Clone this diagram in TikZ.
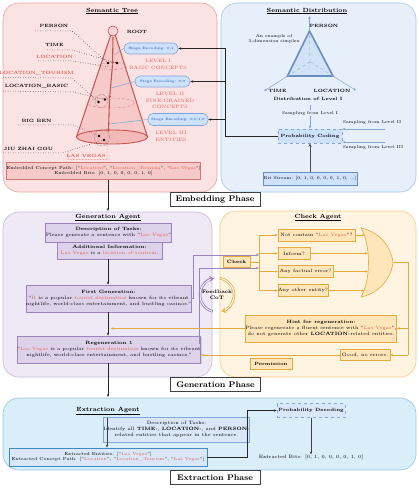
\documentclass[tikz,border=0pt]{standalone}
\usetikzlibrary{arrows.meta,shadows,calc}
\definecolor{rd}{HTML}{EC5A52}
\definecolor{pinkbg}{HTML}{FBE3E3}
\definecolor{pinkbd}{HTML}{E9A3A3}
\definecolor{conef}{HTML}{F4B9B9}
\definecolor{coned}{HTML}{C65454}
\definecolor{embf}{HTML}{F7CACA}
\definecolor{bluebg}{HTML}{E6EFFA}
\definecolor{bluebd}{HTML}{A9C5EA}
\definecolor{stegf}{HTML}{CFE2FB}
\definecolor{stegd}{HTML}{7DA6E0}
\definecolor{stegt}{HTML}{3F6FC8}
\definecolor{triblue}{HTML}{6C8EBF}
\definecolor{trifill}{HTML}{D2E2F7}
\definecolor{purbg}{HTML}{EFE9F5}
\definecolor{purbd}{HTML}{C9B9DD}
\definecolor{purf}{HTML}{DED2EA}
\definecolor{purd}{HTML}{9B83BE}
\definecolor{orbg}{HTML}{FFF4E2}
\definecolor{orbd}{HTML}{F6CB7E}
\definecolor{orf}{HTML}{FFE5BA}
\definecolor{ord}{HTML}{E4AA3C}
\definecolor{exbg}{HTML}{D9EEF8}
\definecolor{exbd}{HTML}{93C9E2}
\definecolor{exf}{HTML}{D9E7F9}
\definecolor{exd}{HTML}{80A8DA}
\definecolor{exbox}{HTML}{3E8CC2}
\newcommand\qq[1]{\textquotedblleft#1\textquotedblright}
\newcommand\rt[1]{\textcolor{rd}{#1}}
\tikzset{
 txt/.style={font=\fontsize{4.7}{5.9}\selectfont, inner sep=0pt, align=center},
 small/.style={font=\fontsize{4.35}{5.7}\selectfont},
 ttl/.style={font=\bfseries\fontsize{6}{7}\selectfont, inner sep=0pt},
 lab/.style={font=\bfseries\fontsize{4.6}{5.5}\selectfont, inner sep=0pt},
 lvl/.style={font=\fontsize{4.8}{6.9}\selectfont, text=rd, align=center, inner sep=0pt},
 panel/.style={rounded corners=16pt, line width=0.6pt},
 shad/.style={drop shadow={shadow xshift=0.8pt, shadow yshift=-0.8pt, fill=black!30}},
 pbox/.style={txt, fill=purf, draw=purd, line width=0.6pt, shad},
 obox/.style={txt, fill=orf, draw=ord, line width=0.6pt, shad},
 stega/.style={font=\bfseries\fontsize{3.4}{4}\selectfont, text=stegt, fill=stegf, draw=stegd, line width=0.6pt, rounded corners=5pt, inner sep=0pt},
 arr/.style={-{Stealth[length=3pt,width=2.4pt]}, line width=0.6pt},
 lead/.style={dotted, line width=0.5pt, black!85},
 phasetab/.style={draw=black!75, fill=white, line width=0.6pt, minimum width=90, minimum height=13.5, font=\bfseries\fontsize{8.2}{9}\selectfont, inner sep=0pt},
}
\begin{document}
\begin{tikzpicture}[x=1pt,y=-1pt]
\useasboundingbox (0,0) rectangle (419,489);
% ================= EMBEDDING PHASE =================
\draw[panel, fill=pinkbg, draw=pinkbd] (3,3) rectangle (217,192);
\draw[panel, fill=bluebg, draw=bluebd] (221,3) rectangle (416,192);
\node[ttl] (tt1) at (112,11) {\underline{Semantic Tree}};
\node[ttl] (tt2) at (307,11) {\underline{Semantic Distribution}};
% cone
\fill[conef!75] (110.5,33) -- (76.5,137) -- (147.5,137) -- (115.5,33) -- cycle;
\fill[conef] (112,137) ellipse [x radius=35.5, y radius=7];
\draw[coned!70, line width=0.4pt, densely dashed] (112.5,66) ellipse [x radius=14, y radius=3.5];
\draw[coned!70, line width=0.4pt, densely dashed] (111,103) ellipse [x radius=23.5, y radius=5];
\draw[coned, line width=1pt] (110.8,35) -- (76.5,137);
\draw[coned, line width=1pt] (115.2,35) -- (147.5,137);
\draw[coned, line width=0.9pt] (112,137) ellipse [x radius=35.5, y radius=7];
\node[circle, draw=coned, fill=conef!60, line width=0.6pt, minimum size=10pt, inner sep=0pt] (root) at (113,31) {};
\node[lab] (rootl) at (137,32) {ROOT};
% red path arrows
\draw[coned, line width=1.1pt, -{Stealth[length=3.5pt,width=3pt]}] (113,37) -- (112.5,65);
\draw[coned, line width=1.1pt, -{Stealth[length=3.5pt,width=3pt]}] (112.5,65) -- (109.5,99);
\draw[coned, line width=1.1pt, -{Stealth[length=3.5pt,width=3pt]}] (109.5,99) -- (108.5,132);
% dotted groups
\draw[black!70, densely dotted, line width=0.4pt] (101.5,101) circle (6.5);
\draw[black!70, densely dotted, line width=0.4pt] (102,137.5) ellipse [x radius=7.5, y radius=8.5];
% dots
\coordinate (d1) at (108,63);
\coordinate (d2) at (117,63);
\coordinate (d3) at (98.5,102);
\coordinate (d4) at (105,99.5);
\coordinate (d5) at (99,136);
\coordinate (d6) at (104,140);
\foreach \d in {d1,d2,d3,d4,d5,d6} \fill (\d) circle (1.3);
% labels
\node[lab] (lp) at (54,26) {PERSON};
\node[lab] (lt) at (54.5,45) {TIME};
\node[lab, text=rd] (ll) at (54.5,57) {LOCATION};
\node[lab, text=rd] (llt) at (36.5,73) {LOCATION\_TOURISM};
\node[lab] (llb) at (36.5,86) {LOCATION\_BASIC};
\node[lab] (lbb) at (36.5,121) {BIG BEN};
\node[lab] (ljz) at (28.5,149) {JIU ZHAI GOU};
\node[lab, text=rd] (llv) at (86,155.5) {LAS VEGAS};
% leaders
\draw[lead] (35,31) -- (72,31) -- (d1);
\draw[lead] (47,50) -- (72,50) -- (d2);
\draw[lead] (38,61) -- (72,61) -- (110,67);
\draw[lead] (3,77.5) -- (72,78) -- (d3);
\draw[lead] (3,91) -- (73,92) -- (d4);
\draw[lead] (18,125) -- (73,125) -- (d5);
\draw[lead] (3,153) -- (62,153) -- (d6);
\draw[rd, densely dotted, line width=0.5pt] (d6) -- (107,143) -- (107,159.5) -- (68,159.5) -- (68,150);
% level texts
\node[lvl] (lv1) at (158,64.5) {LEVEL I\\BASIC CONCEPTS};
\node[lvl] (lv2) at (170,100.5) {LEVEL II\\FINE-GRAINED\\CONCEPTS};
\node[lvl] (lv3) at (171,136) {LEVEL III\\ENTITIES};
% stega boxes
\node[stega, minimum width=54, minimum height=11] (s1) at (151,48.5) {Stega Encoding: 0,1};
\node[stega, minimum width=55, minimum height=11] (s2) at (162.5,81.5) {Stega Encoding: 0,0};
\node[stega, minimum width=60, minimum height=12] (s3) at (178,119.5) {Stega Encoding: 0,0,1,0};
\draw[stegd, line width=0.5pt] (s1.west) -- (114,55);
\draw[stegd, line width=0.5pt] (s2.west) -- (111.5,88);
\draw[stegd, line width=0.5pt] (s3.west) -- (109.5,124);
% embedded box
\node[txt, small, fill=embf, draw=coned!80, line width=0.7pt, minimum width=193, minimum height=16.5] (emb) at (103.5,171) {Embedded Concept Path: [\qq{\rt{Location}}, \qq{\rt{Location\_Tourism}}, \qq{\rt{Las Vegas}}]\\Embedded Bits: [0, 1, 0, 0, 0, 0, 1, 0]};
% simplex
\coordinate (tc) at (310,62);
\coordinate (ta) at (309.5,31);
\coordinate (tl) at (287.5,76);
\coordinate (tr) at (333,76);
\filldraw[fill=trifill, draw=triblue, line width=1.6pt, line join=miter] (ta) -- (tl) -- (tr) -- cycle;
\draw[triblue!70, dashed, line width=0.4pt] (tc) -- (ta) (tc) -- (tl) (tc) -- (tr);
\draw[triblue!80, line width=0.5pt, -{Stealth[length=3pt,width=2.5pt]}] (ta) -- (309.5,16);
\draw[triblue!80, line width=0.5pt, -{Stealth[length=3pt,width=2.5pt]}] (tl) -- (264,91);
\draw[triblue!80, line width=0.5pt, -{Stealth[length=3pt,width=2.5pt]}] (tr) -- (356,90.5);
\node[lab] (sp) at (324,26) {PERSON};
\node[lab] (st) at (277.5,91) {TIME};
\node[lab] (sl) at (332,91) {LOCATION};
\node[lab] (sdl) at (308,99) {Distribution of Level I};
\node[txt, font=\fontsize{4.2}{5.3}\selectfont] (sex) at (274,39) {An example of\\3-dimension simplex};
% probability coding
\node[txt, font=\bfseries\fontsize{4.6}{5.5}\selectfont, fill=stegf, draw=stegd, dashed, line width=0.6pt, minimum width=64, minimum height=14] (pc) at (310,136) {Probability Coding};
\node[txt, fill=bluebg, inner sep=0.5pt, font=\fontsize{4.2}{5.3}\selectfont] (smp1) at (310,113) {Sampling from Level I};
\draw[triblue!80, line width=0.5pt, -{Stealth[length=3pt,width=2.5pt]}] (310,105) -- (smp1.north) (smp1.south) -- (pc.north);
\coordinate (sm2) at (385,129);
\coordinate (sm3) at (385,142);
\draw[triblue!80, line width=0.5pt, -{Stealth[length=3pt,width=2.5pt]}] (sm2) -- (sm2 -| pc.east);
\draw[triblue!80, line width=0.5pt, -{Stealth[length=3pt,width=2.5pt]}] (sm3) -- (sm3 -| pc.east);
\node[txt, font=\fontsize{4.2}{5.3}\selectfont] (smp2) at (372,122.5) {Sampling from Level II};
\node[txt, font=\fontsize{4.2}{5.3}\selectfont] (smp3) at (373,147.5) {Sampling from Level III};
\node[txt, font=\fontsize{4.2}{5.3}\selectfont, fill=stegf, draw=triblue, line width=0.7pt, minimum width=94, minimum height=13, shad] (bs) at (310,178.5) {Bit Stream: [0, 1, 0, 0, 0, 0, 1, 0, ...]};
\draw[black!70, line width=0.9pt, -{Stealth[length=3.5pt,width=3pt]}] (bs.north) -- (pc.south);
% coding to stega
\coordinate (cv) at (225,136);
\draw[black!85, line width=0.6pt] (pc.west) -- (cv) -- (225,48.5);
\draw[arr, black!85] (225,48.5) -- (s1.east);
\draw[arr, black!85] (225,81.5) -- (s2.east);
\draw[arr, black!85] (225,119.5) -- (s3.east);
\node[phasetab] (tab1) at (215,199.3) {Embedding Phase};
% ================= GENERATION PHASE =================
\draw[arr, black!85] (emb.south -| 108,0) -- (108,211);
\draw[panel, fill=purbg, draw=purbd] (3,212) rectangle (212,377);
\draw[panel, fill=orbg, draw=orbd] (220,211) rectangle (416,377);
\node[ttl] (gt) at (108,217.5) {\underline{Generation Agent}};
\node[ttl] (ct) at (318,217.5) {\underline{Check Agent}};
\node[pbox, minimum width=117, minimum height=19] (desc) at (108.5,232.5) {\textbf{Description of Tasks:}\\Please generate a sentence with \qq{\rt{Las Vegas}}};
\node[pbox, minimum width=105, minimum height=17] (add) at (109.5,250.5) {\textbf{Additional Information:}\\\rt{Las Vegas} is a \rt{location of tourism}.};
\node[pbox, minimum width=153, minimum height=27] (fg) at (108.5,298.5) {\textbf{First Generation:}\\\qq{\rt{It} is a popular \rt{tourist destination} known for its vibrant\\nightlife, world-class entertainment, and bustling casinos.}};
\node[pbox, minimum width=176, minimum height=27] (rg) at (109,349.5) {\textbf{Regeneration 1}\\\qq{\rt{Las Vegas} is a popular \rt{tourist destination} known for its vibrant\\nightlife, world-class entertainment, and bustling casinos.}};
\draw[arr, black!85] (add.south -| 108,0) -- (fg.north -| 108,0);
\draw[arr, black!85] (fg.south -| 108,0) -- (rg.north -| 108,0);
% feedback CoT
\coordinate (fb) at (217,295);
\draw[purd, line width=2.6pt, -{Stealth[length=4.5pt,width=6pt]}] ([shift={(-255:17)}]fb) arc[start angle=-255, end angle=-100, radius=17];
\draw[white, line width=0.9pt] ([shift={(-252:17)}]fb) arc[start angle=-252, end angle=-112, radius=17];
\draw[ord!90, line width=2.6pt, -{Stealth[length=4.5pt,width=6pt]}] ([shift={(-80:17)}]fb) arc[start angle=-80, end angle=75, radius=17];
\draw[white, line width=0.9pt] ([shift={(-77:17)}]fb) arc[start angle=-77, end angle=63, radius=17];
\node[txt, font=\bfseries\fontsize{5}{5.8}\selectfont] (fbt) at (fb) {Feedback\\CoT};
% check agent
\node[obox, font=\bfseries\fontsize{4.7}{5.9}\selectfont, minimum width=27, minimum height=11] (chk) at (236.5,262) {Check};
\node[obox, minimum width=77, minimum height=12] (q1) at (316.5,235) {Not contain \qq{\rt{Las Vegas}}?};
\node[obox, minimum width=32, minimum height=12] (q2) at (294,253.5) {Inform?};
\node[obox, minimum width=55, minimum height=12] (q3) at (305.5,271.5) {Any factual error?};
\node[obox, minimum width=50, minimum height=12] (q4) at (303,290.5) {Any other entity?};
\coordinate (bv) at (259,235);
\draw[ord, line width=0.6pt] (chk.east) -- (259,262) (bv) -- (259,290.5);
\draw[arr, ord] (bv) -- (q1.west);
\draw[arr, ord] (259,253.5) -- (q2.west);
\draw[arr, ord] (259,271.5) -- (q3.west);
\draw[arr, ord] (259,290.5) -- (q4.west);
% gate
\draw[fill=orf, draw=ord, line width=0.6pt] (361,228) .. controls (371,245) and (371,280) .. (361,297) .. controls (380,293) and (391,278) .. (393,262.5) .. controls (391,247) and (380,232) .. (361,228) -- cycle;
\coordinate (gout) at (393,262.5);
\draw[arr, ord] (q1.east) -- (364.5,235);
\draw[arr, ord] (q2.east) -- (368,253.5);
\draw[arr, ord] (q3.east) -- (368,271.5);
\draw[arr, ord] (q4.east) -- (364.5,290.5);
% purple connectors
\draw[arr, purd] (fg.east) -- (193,298.5) -- (193,255) -- (259,255);
\draw[arr, purd] (rg.east |- 0,343) -- (199,343) -- (199,268) -- (259,268);
% hint, good, permission
\node[obox, minimum width=138, minimum height=27] (hint) at (321,328.5) {\textbf{Hint for regeneration:}\\Please regenerate a fluent sentence with \qq{\rt{Las Vegas}},\\do not generate other \textbf{LOCATION}-related entities.};
\node[obox, minimum width=50, minimum height=11] (good) at (365,355) {Good, no errors.};
\node[obox, font=\bfseries\fontsize{4.6}{5.9}\selectfont, minimum width=42, minimum height=11] (perm) at (271,363.5) {Permission};
\draw[ord, line width=0.6pt] (gout) -- (408,262.5) -- (408,355);
\draw[arr, ord] (408,328.5) -- (hint.east);
\draw[arr, ord] (408,355) -- (good.east);
\draw[arr, ord] (hint.west) -- (110.5,328.5);
\draw[arr, ord] (good.west) -- (good.west -| rg.east);
\node[phasetab] (tab2) at (215.5,384.3) {Generation Phase};
% ================= EXTRACTION PHASE =================
\draw[arr, black!85] (rg.south -| 108,0) -- (108,397);
\draw[panel, fill=exbg, draw=exbd] (3,398) rectangle (416,470);
\node[ttl] (et) at (108,411) {\underline{Extraction Agent}};
\node[txt, fill=exf, draw=exd, line width=0.6pt, minimum width=131, minimum height=25, shad] (edesc) at (176.5,429.5) {Description of Tasks:\\Identify all \textbf{TIME}-, \textbf{LOCATION}-, and \textbf{PERSON}-\\related entities that appear in the sentence.};
\node[txt, small, fill=exf, draw=exbox, line width=0.9pt, minimum width=198, minimum height=18] (ext) at (108,457) {Extracted Entities: [\qq{\rt{Las Vegas}}]\\Extracted Concept Path: [\qq{\rt{Location}}, \qq{\rt{Location\_Tourism}}, \qq{\rt{Las Vegas}}]};
\coordinate (ea) at (107,417.5);
\draw[arr, black!75, line width=0.8pt] (ea) -- (ext.north -| ea);
\node[txt, font=\bfseries\fontsize{4.6}{5.5}\selectfont, fill=exf, draw=exd, dashed, line width=0.6pt, minimum width=68, minimum height=14] (pd) at (311,410.5) {Probability Decoding};
\draw[arr, black!85] (ext.east) -- (247,457) -- (247,410.5) -- (pd.west);
\node[txt] (eb) at (311,457) {Extracted Bits: [0, 1, 0, 0, 0, 0, 1, 0]};
\draw[arr, black!75, line width=0.8pt] (pd.south) -- (eb.north);
\node[phasetab] (tab3) at (215,477.3) {Extraction Phase};
\end{tikzpicture}
\end{document}
